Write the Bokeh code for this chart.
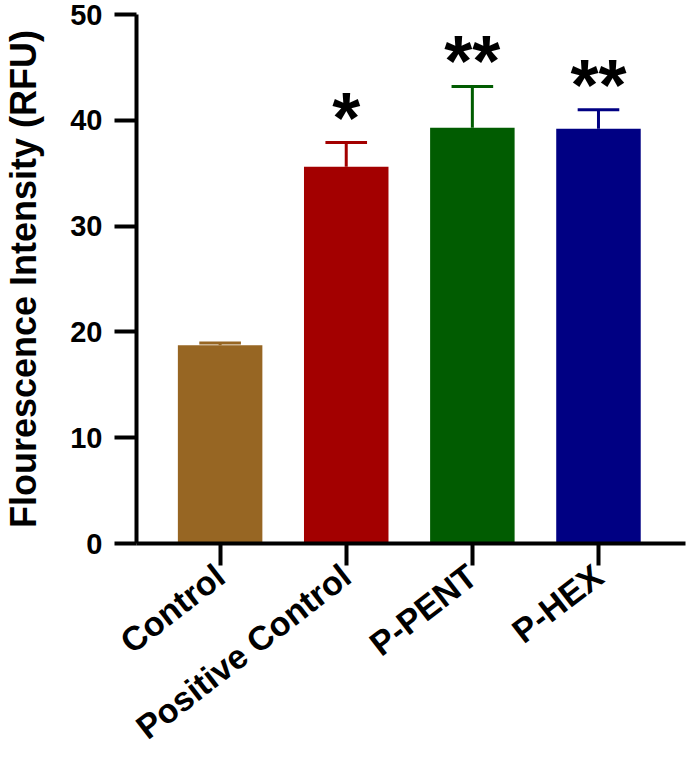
from bokeh.plotting import figure
from bokeh.models import ColumnDataSource, FixedTicker, Range1d
from bokeh.core.properties import value
from bokeh.embed import file_html
from bokeh.resources import INLINE

categories = ["Control", "Positive Control", "P-PENT", "P-HEX"]
means = [18.75, 35.6, 39.3, 39.2]
errors = [0.2, 2.3, 3.9, 1.8]
significance = ["", "*", "**", "**"]
colors = ["#976623", "#A30000", "#015C01", "#000083"]
y_ticks = [0, 10, 20, 30, 40, 50]

idx = list(range(len(categories)))
upper = [m + e for m, e in zip(means, errors)]
bar_w = 0.67
cap_half = 0.165

src = ColumnDataSource(dict(
    x=idx, mean=means, upper=upper, color=colors, sig=significance,
    cx0=[i - cap_half for i in idx], cx1=[i + cap_half for i in idx],
))

FONT = "Liberation Sans"

p = figure(width=688, height=764, output_backend="svg", toolbar_location=None,
           x_range=Range1d(-0.663, 3.69), y_range=Range1d(0, 50),
           min_border_left=133, min_border_right=3, min_border_top=14,
           min_border_bottom=10)
p.outline_line_color = None
p.grid.visible = False

p.vbar(x="x", top="mean", width=bar_w, bottom=0, fill_color="color",
       line_color=None, source=src)
p.segment(x0="x", y0="mean", x1="x", y1="upper", line_color="color",
          line_width=3, source=src)
p.segment(x0="cx0", y0="upper", x1="cx1", y1="upper", line_color="color",
          line_width=3, source=src)
p.text(x="x", y="upper", text="sig", text_align="center",
       text_baseline="alphabetic", y_offset=-25, text_font=value(FONT),
       text_font_style="bold", text_font_size="72px", text_color="black",
       source=src)

# y axis
ya = p.yaxis[0]
ya.ticker = FixedTicker(ticks=y_ticks)
ya.minor_tick_line_color = None
ya.major_tick_out = 22
ya.major_tick_in = 0
ya.major_tick_line_width = 4
ya.axis_line_width = 4
ya.major_label_text_font = FONT
ya.major_label_text_font_style = "bold"
ya.major_label_text_font_size = "29px"
ya.major_label_text_color = "black"
ya.major_label_standoff = 12
ya.axis_label = "Flourescence Intensity (RFU)"
ya.axis_label_text_font = FONT
ya.axis_label_text_font_style = "bold"
ya.axis_label_text_font_size = "36px"
ya.axis_label_text_color = "black"
ya.axis_label_standoff = 23

# x axis
xa = p.xaxis[0]
xa.ticker = FixedTicker(ticks=idx)
xa.major_label_overrides = {i: c for i, c in zip(idx, categories)}
xa.minor_tick_line_color = None
xa.major_tick_out = 22
xa.major_tick_in = 0
xa.major_tick_line_width = 4
xa.axis_line_width = 4
xa.major_label_orientation = 0.66
xa.major_label_text_font = FONT
xa.major_label_text_font_style = "bold"
xa.major_label_text_font_size = "34px"
xa.major_label_text_color = "black"
xa.major_label_standoff = 6

open("out.html", "w").write(file_html(p, INLINE))
